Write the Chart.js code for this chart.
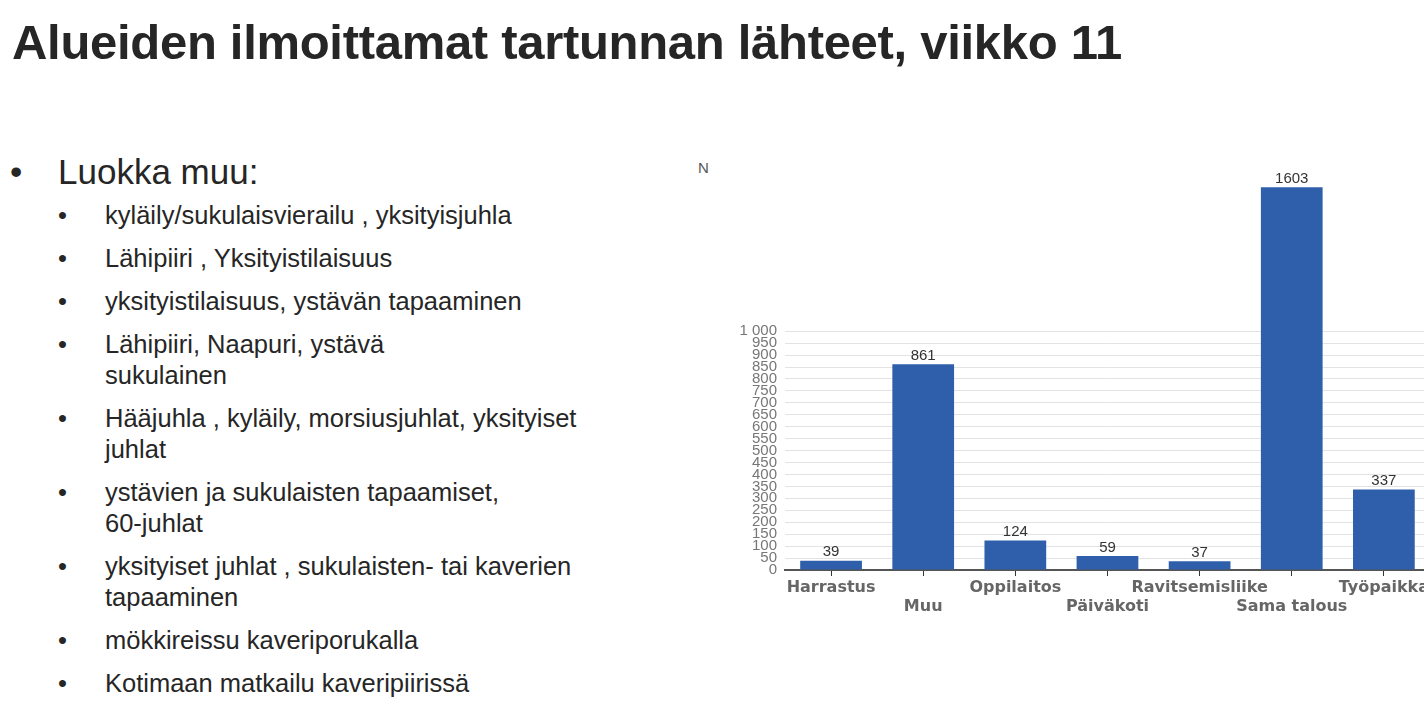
<!DOCTYPE html>
<html><head><meta charset="utf-8">
<script src="https://cdn.jsdelivr.net/npm/chart.js@4"></script>
<style>
body{margin:0;width:1424px;height:719px;overflow:hidden;background:#fff;font-family:Arial,"Liberation Sans",sans-serif;color:#262626;position:relative}
h1{position:absolute;left:12px;top:14px;margin:0;font-size:49px;font-weight:bold;letter-spacing:-0.3px}
.l1{position:absolute;left:10px;top:152px;font-size:35px}
.l1 span{position:absolute;left:48px;white-space:nowrap}
ul{position:absolute;left:58px;top:200px;margin:0;padding:0;list-style:none;font-size:25.5px;line-height:31px}
li{position:relative;padding-left:47px;margin-bottom:12px}
li:before{content:"•";position:absolute;left:0}
#wrap{position:absolute;left:690px;top:150px;width:741px;height:475px}
.n{position:absolute;left:698px;top:159px;font-size:15px;color:#555}
</style></head><body>
<h1>Alueiden ilmoittamat tartunnan lähteet, viikko 11</h1>
<div class="l1">•<span>Luokka muu:</span></div>
<ul>
<li>kyläily/sukulaisvierailu , yksityisjuhla</li>
<li>Lähipiiri , Yksityistilaisuus</li>
<li>yksityistilaisuus, ystävän tapaaminen</li>
<li>Lähipiiri, Naapuri, ystävä<br>sukulainen</li>
<li>Hääjuhla , kyläily, morsiusjuhlat, yksityiset<br>juhlat</li>
<li>ystävien ja sukulaisten tapaamiset,<br>60-juhlat</li>
<li>yksityiset juhlat , sukulaisten- tai kaverien<br>tapaaminen</li>
<li>mökkireissu kaveriporukalla</li>
<li>Kotimaan matkailu kaveripiirissä</li>
</ul>
<div class="n">N</div>
<div id="wrap"><canvas id="c"></canvas></div>
<script>
const categories=["Harrastus","Muu","Oppilaitos","Päiväkoti","Ravitsemisliike","Sama talous","Työpaikka"];
const values=[39,861,124,59,37,1603,337];
const labels=categories.map((c,i)=>i%2?["",c]:[c]);
const valueLabels={id:'vl',afterDatasetsDraw(ch){const ctx=ch.ctx;ctx.save();ctx.font='15px Arial';ctx.fillStyle='#333';ctx.textAlign='center';ctx.textBaseline='bottom';
ch.getDatasetMeta(0).data.forEach((b,i)=>ctx.fillText(values[i],b.x,b.y-1));ctx.restore();}};
new Chart(document.getElementById('c'),{type:'bar',
data:{labels,datasets:[{data:values,backgroundColor:'#2f5fab',borderColor:'#2f5fab',barPercentage:0.67,categoryPercentage:1}]},
options:{responsive:true,maintainAspectRatio:false,animation:false,
layout:{padding:{top:5,left:0,right:0,bottom:0}},
plugins:{legend:{display:false},tooltip:{enabled:false}},
scales:{
x:{grid:{offset:false,drawOnChartArea:false,drawTicks:true,tickLength:6,color:'#333'},border:{color:'#555',width:2},
ticks:{autoSkip:false,maxRotation:0,color:'#666',font:{family:'DejaVu Sans',weight:'bold',size:16},padding:2,lineHeight:1.45},
afterFit(s){s.height=55;}},
y:{min:0,max:1700,grid:{color:c=>c.tick&&c.tick.value<=1000?'#e3e3e3':'transparent',drawTicks:false},border:{display:false},
ticks:{stepSize:50,autoSkip:false,color:'#777',padding:8,font:{family:'Arial',size:15,lineHeight:0.8},
callback:v=>v>1000?'':(v===1000?'1 000':String(v))},
afterFit(s){s.width=95;}}
}},plugins:[valueLabels]});
</script>
</body></html>
